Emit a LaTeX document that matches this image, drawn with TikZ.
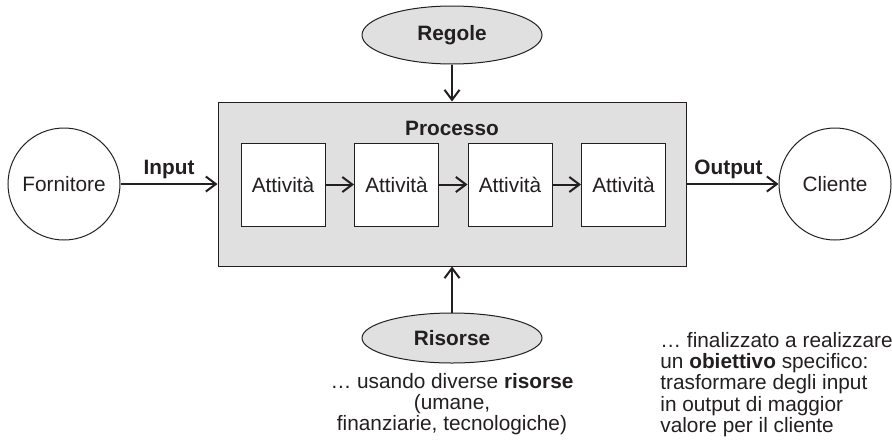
\documentclass[tikz,border=0pt]{standalone}
\usepackage{fontspec}
\setmainfont{Liberation Sans}
\usepackage{tikz}
\usetikzlibrary{arrows.meta,positioning,shapes.geometric}
\definecolor{ink}{RGB}{35,31,32}
\definecolor{fondo}{RGB}{224,224,224}

\begin{document}
\begin{tikzpicture}[x=0.5pt,y=-0.5pt,auto,
                    font=\fontsize{10.4}{10.6}\selectfont,text=ink,
                    freccia/.style={-{Straight Barb[length=5pt,width=7.5pt]},line width=1pt,draw=ink},
                    attore/.style={circle,draw=ink,line width=0.5pt,minimum size=56pt,inner sep=0pt},
                    attivita/.style={rectangle,draw=ink,fill=white,line width=0.5pt,minimum width=42pt,minimum height=41.5pt,inner sep=0pt},
                    vincolo/.style={ellipse,draw=ink,fill=fondo,line width=0.5pt,inner sep=0pt,font=\fontsize{10.4}{10.6}\selectfont\bfseries}]
  \useasboundingbox (0,0) rectangle (892,445);

  %Processo%
  \node[rectangle,draw=ink,fill=fondo,line width=0.5pt,minimum width=234pt,minimum height=82pt] (proc) at (452,184) {};
  \node[font=\fontsize{10.4}{10.6}\selectfont\bfseries] (titolo) at (452,128) {Processo};
  \node[attivita] (a1) at (283,184.5) {Attività};
  \node[attivita] (a2) [right=14.25pt of a1] {Attività};
  \node[attivita] (a3) [right=14.25pt of a2] {Attività};
  \node[attivita] (a4) [right=14.25pt of a3] {Attività};

  %Attori%
  \node[attore] (forn) at (64,184) {Fornitore};
  \node[attore] (cli) at (835,184) {Cliente};

  %Regole e risorse%
  \node[vincolo,minimum width=90pt,minimum height=29pt] (regole) at (452,35) {Regole};
  \node[vincolo,minimum width=90pt,minimum height=25pt] (risorse) at (452,338) {Risorse};

  %Note%
  \node[align=center,anchor=north,inner sep=0pt] (nota1) at (452,373)
    {… usando diverse \textbf{risorse}\\(umane,\\finanziarie, tecnologiche)};
  \node[align=left,anchor=north west,inner sep=0pt] (nota2) at (660,332)
    {… finalizzato a realizzare\\un \textbf{obiettivo} specifico:\\trasformare degli input\\in output di maggior\\valore per il cliente};

  \path[every node/.style={font=\fontsize{10.4}{10.6}\selectfont\bfseries,inner sep=2pt}]
    (forn) edge[freccia] node [above] {Input} (proc)
    (proc) edge[freccia] node [above,xshift=-2pt] {Output} (cli)
    (a1) edge[freccia] (a2)
    (a2) edge[freccia] (a3)
    (a3) edge[freccia] (a4)
    (regole) edge[freccia] (proc)
    (risorse) edge[freccia] (proc);
\end{tikzpicture}
\end{document}
